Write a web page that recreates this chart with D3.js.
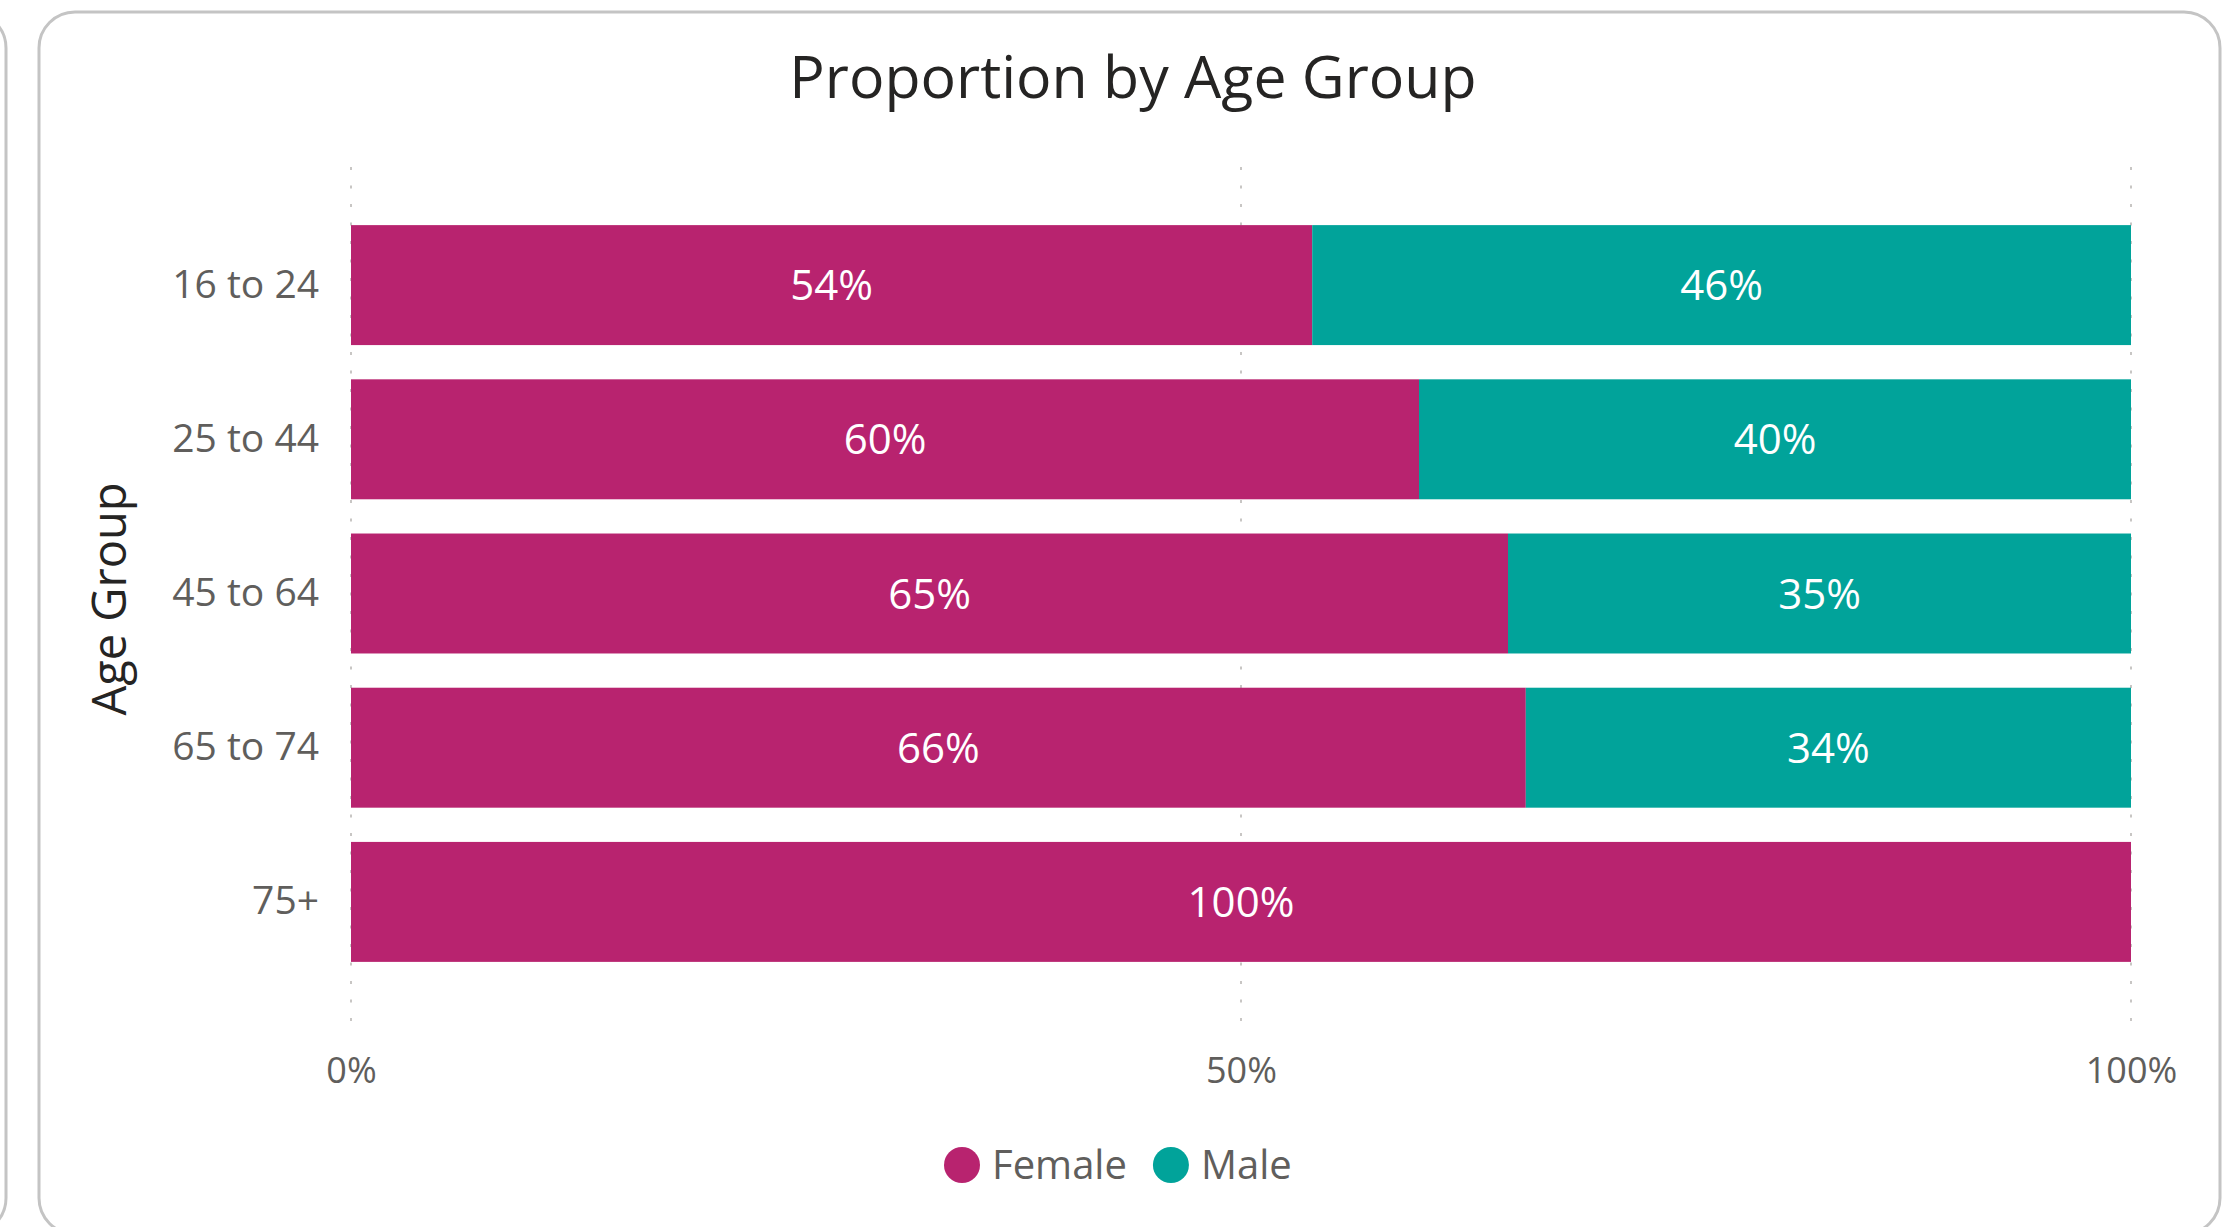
<!DOCTYPE html>
<html>
<head>
<meta charset="utf-8">
<script src="https://cdn.jsdelivr.net/npm/d3@7"></script>
<style>
  body { margin: 0; background: #ffffff; }
  svg { display: block; }
</style>
</head>
<body>
<svg id="chart" width="2223" height="1227"></svg>
<script>
// Share of each age group by sex, in percent
const ageGroups = ["16 to 24", "25 to 44", "45 to 64", "65 to 74", "75+"];
const femaleShare = [54, 60, 65, 66, 100];
const maleShare = [46, 40, 35, 34, 0];
const seriesNames = ["Female", "Male"];
const seriesColors = ["#B8236F", "#01A39A"];
const xTickValues = [0, 50, 100];

const FONT = "'Open Sans', 'Noto Sans', sans-serif";
const svg = d3.select("#chart");

// card frames
svg.append("rect")
  .attr("x", -1000).attr("y", 12).attr("width", 1006).attr("height", 1222)
  .attr("rx", 36).attr("fill", "none").attr("stroke", "#C4C4C4").attr("stroke-width", 3);
svg.append("rect")
  .attr("x", 39).attr("y", 12).attr("width", 2181).attr("height", 1222)
  .attr("rx", 36).attr("fill", "#ffffff").attr("stroke", "#C4C4C4").attr("stroke-width", 3);

// title
svg.append("text")
  .attr("x", 1133).attr("y", 98)
  .attr("text-anchor", "middle")
  .attr("font-family", FONT).attr("font-size", 59)
  .attr("fill", "#252423")
  .text("Proportion by Age Group");

// scales
const x = d3.scaleLinear().domain([0, 100]).range([351, 2131]);
const y = d3.scaleBand().domain(ageGroups).range([208, 979])
  .paddingInner(0.222).paddingOuter(0.111);
const color = d3.scaleOrdinal().domain(seriesNames).range(seriesColors);

// dotted vertical gridlines
svg.append("g").selectAll("line")
  .data(xTickValues)
  .join("line")
  .attr("x1", d => x(d)).attr("x2", d => x(d))
  .attr("y1", 167).attr("y2", 1035)
  .attr("stroke", "#C8C6C4").attr("stroke-width", 2)
  .attr("stroke-dasharray", "3,15.5");

// stacked rows
const rows = ageGroups.map((g, i) => ({ group: g, Female: femaleShare[i], Male: maleShare[i] }));
const stacked = d3.stack().keys(seriesNames)(rows);

const layers = svg.append("g").selectAll("g")
  .data(stacked)
  .join("g")
  .attr("fill", d => color(d.key));

layers.selectAll("rect")
  .data(d => d.filter(s => s[1] - s[0] > 0))
  .join("rect")
  .attr("x", d => x(d[0]))
  .attr("y", d => y(d.data.group))
  .attr("width", d => x(d[1]) - x(d[0]))
  .attr("height", y.bandwidth());

// value labels inside segments
const labels = svg.append("g");
stacked.forEach(layer => {
  layer.filter(s => s[1] - s[0] > 0).forEach(s => {
    labels.append("text")
      .attr("x", (x(s[0]) + x(s[1])) / 2)
      .attr("y", y(s.data.group) + y.bandwidth() / 2)
      .attr("dy", "0.36em")
      .attr("text-anchor", "middle")
      .attr("font-family", FONT).attr("font-size", 42)
      .attr("fill", "#ffffff")
      .text((s[1] - s[0]) + "%");
  });
});

// y axis
const yAxis = svg.append("g")
  .attr("transform", `translate(${x(0)},0)`)
  .call(d3.axisLeft(y).tickSize(0).tickPadding(32));
yAxis.select(".domain").remove();
yAxis.selectAll("text")
  .attr("font-family", FONT).attr("font-size", 39).attr("fill", "#605E5C");

// x axis
const xAxis = svg.append("g")
  .attr("transform", "translate(0,1035)")
  .call(d3.axisBottom(x).tickValues(xTickValues).tickFormat(d => d + "%").tickSize(0).tickPadding(22));
xAxis.select(".domain").remove();
xAxis.selectAll("text")
  .attr("font-family", FONT).attr("font-size", 36).attr("fill", "#605E5C");

// y axis title
svg.append("text")
  .attr("transform", "translate(126,599) rotate(-90)")
  .attr("text-anchor", "middle")
  .attr("font-family", FONT).attr("font-size", 47)
  .attr("fill", "#252423")
  .text("Age Group");

// legend
const legend = svg.append("g").attr("transform", "translate(944,1165)");
let cursor = 0;
seriesNames.forEach(name => {
  legend.append("circle")
    .attr("cx", cursor + 18).attr("cy", 0).attr("r", 18)
    .attr("fill", color(name));
  const t = legend.append("text")
    .attr("x", cursor + 48).attr("y", 14)
    .attr("font-family", FONT).attr("font-size", 40)
    .attr("fill", "#605E5C")
    .text(name);
  cursor += 48 + t.node().getComputedTextLength() + 26;
});
</script>
</body>
</html>
